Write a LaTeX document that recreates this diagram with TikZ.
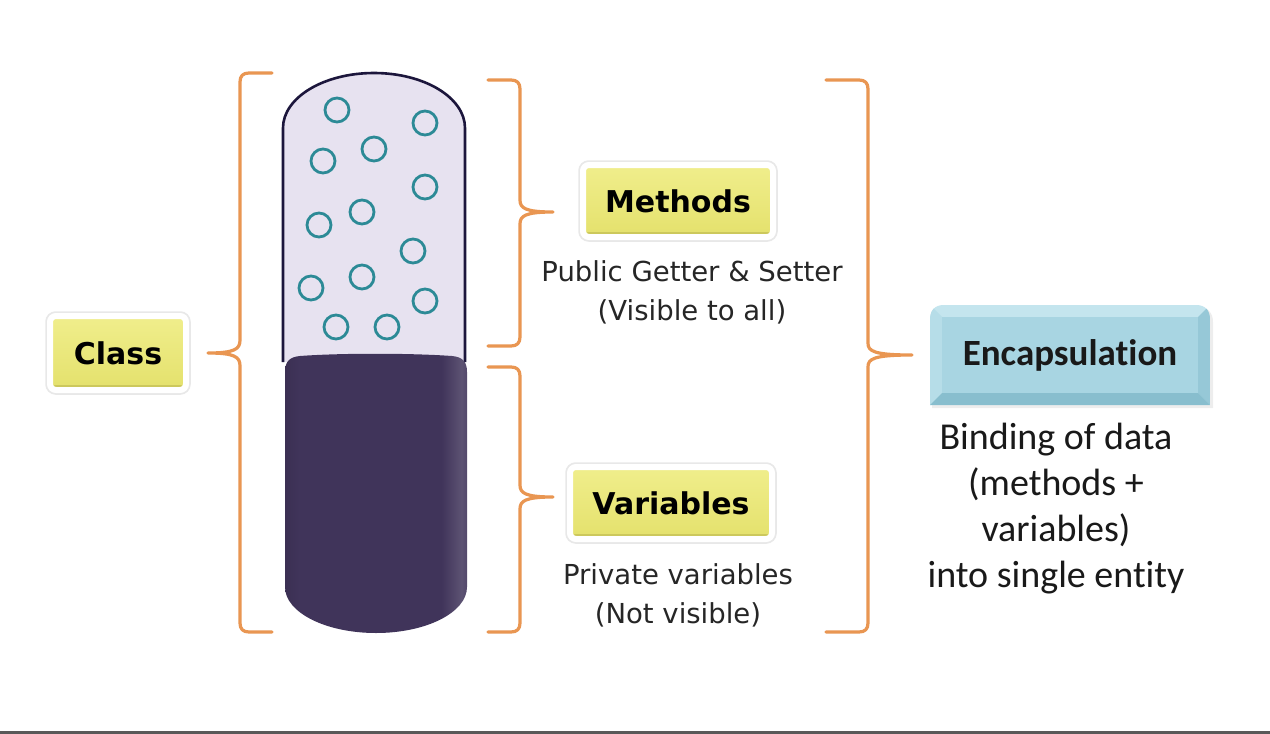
\documentclass[tikz,border=0pt]{standalone}
\usepackage{fontspec}
\setmainfont{DejaVu Sans}
\newfontfamily\calfont[Ligatures=NoCommon]{Carlito}
\usetikzlibrary{shadows}
\definecolor{bracecol}{RGB}{233,150,82}
\definecolor{yellowtop}{RGB}{240,238,140}
\definecolor{yellowbot}{RGB}{228,225,108}
\definecolor{yellowedge}{RGB}{204,200,92}
\definecolor{bluetopbev}{RGB}{196,229,238}
\definecolor{blueface}{RGB}{168,213,226}
\definecolor{blueleft}{RGB}{182,221,232}
\definecolor{blueright}{RGB}{150,200,215}
\definecolor{bluebotbev}{RGB}{136,190,206}
\definecolor{lavender}{RGB}{231,226,240}
\definecolor{navy}{RGB}{28,22,60}
\definecolor{darkpill}{RGB}{64,52,90}
\definecolor{tealring}{RGB}{44,138,150}
\pgfdeclarehorizontalshading{pillshade}{100bp}{
  color(0bp)=(darkpill!92!black); color(25bp)=(darkpill!92!black);
  color(29bp)=(darkpill); color(68bp)=(darkpill);
  color(73.5bp)=(darkpill!85!white); color(75bp)=(darkpill!90!white);
  color(100bp)=(darkpill!90!white)}
\begin{document}
\begin{tikzpicture}[x=1pt,y=-1pt,
  brc/.style={draw=bracecol, line width=3.2, line join=round, line cap=round},
  ybox/.style={rectangle, rounded corners=6, top color=yellowtop, bottom color=yellowbot,
    draw=white, line width=6, inner sep=0pt, text=black,
    font=\bfseries\fontsize{30}{36}\selectfont,
    preaction={draw=black!9, fill=none, line width=9.5, rounded corners=6},
    path picture={\fill[yellowedge] ([yshift=5pt]path picture bounding box.south west)
       rectangle (path picture bounding box.south east);}},
  capt/.style={align=center, inner sep=0pt, text=black!85,
    font=\fontsize{27.5}{39}\selectfont},
  ring/.style={draw=tealring, line width=2.8, fill=none}
]
\useasboundingbox (0,0) rectangle (1270,734);
\fill[white] (0,0) rectangle (1270,734);
\draw[black!65, line width=2.5] (0,732.5) -- (1270,732.5);

% capsule upper part
\path[fill=lavender, draw=navy, line width=2.6]
  (283,362) -- (283,128)
  .. controls (283,97.6) and (323.7,73) .. (374,73)
  .. controls (424.3,73) and (465,97.6) .. (465,128)
  -- (465,362);
% capsule lower part
\path[shading=pillshade] (285,372)
  .. controls (285,361) and (290,357) .. (300,356)
  .. controls (340,353) and (410,353) .. (452,356)
  .. controls (462,357) and (467,361) .. (467,372)
  -- (467,587)
  .. controls (467,612.4) and (426.3,633) .. (376,633)
  .. controls (325.7,633) and (285,612.4) .. (285,587) -- cycle;

% rings
\foreach \cx/\cy in {337/110, 425/123, 374/149, 323/161, 425/187, 362/212,
  319/225, 413/251, 362/277, 311/288, 425/301, 336/327, 387/327}
  \draw[ring] (\cx,\cy) circle[radius=12];

% encapsulation box (bevelled)
\fill[black, opacity=0.07] (932,408) -- (932,322) .. controls (932,313) and (936,307) .. (946,307)
    -- (1198,307) .. controls (1208,307) and (1213,313) .. (1213,322) -- (1213,408) -- cycle;
\begin{scope}
  \clip (930,405) -- (930,320) .. controls (930,311) and (934,305) .. (944,305)
    -- (1196,305) .. controls (1206,305) and (1210,311) .. (1210,320) -- (1210,405) -- cycle;
  \fill[bluetopbev] (930,300) rectangle (1210,405);
  \fill[blueleft] (930,305) -- (942,317) -- (942,393) -- (930,405) -- cycle;
  \fill[blueright] (1210,305) -- (1198,317) -- (1198,393) -- (1210,405) -- cycle;
  \fill[bluebotbev] (930,405) -- (942,393) -- (1198,393) -- (1210,405) -- cycle;
  \fill[blueface] (942,317) rectangle (1198,393);
\end{scope}

% nodes
\node[ybox, minimum width=136, minimum height=74] (class) at (118,353) {Class};
\node[ybox, minimum width=190, minimum height=72] (methods) at (678,201) {Methods};
\node[capt] (methodstxt) at (692,292) {Public Getter \& Setter\\(Visible to all)};
\node[ybox, minimum width=202, minimum height=72] (variables) at (671,503) {Variables};
\node[capt] (variablestxt) at (678,595) {Private variables\\(Not visible)};
\node[minimum width=280, minimum height=100, inner sep=0pt, text=black!90,
  font=\calfont\bfseries\fontsize{37}{42}\selectfont] (encaps) at (1070,355) {Encapsulation};
\node[align=center, inner sep=0pt, text=black!90, font=\calfont\fontsize{38}{46}\selectfont]
  (encapstxt) at (1056,509) {Binding of data\\(methods +\\variables)\\into single entity};

% brace tips
\coordinate (tipL) at (208,353);
\coordinate (tipM) at (553,212);
\coordinate (tipV) at (553,497);
\coordinate (tipE) at (912,355);

% left brace (Class)
\path[brc] (272,73) -- (249,73) .. controls (243,73) and (240,76) .. (240,82)
  -- (240,340) .. controls (240,349) and (235,353) .. (tipL)
  .. controls (235,353) and (240,357) .. (240,366)
  -- (240,623) .. controls (240,629) and (243,632) .. (249,632) -- (272,632);
% methods brace
\path[brc] (488,80) -- (511,80) .. controls (517,80) and (520,83) .. (520,89)
  -- (520,200) .. controls (520,208) and (525,212) .. (tipM)
  .. controls (525,212) and (520,216) .. (520,224)
  -- (520,337) .. controls (520,343) and (517,346) .. (511,346) -- (488,346);
% variables brace
\path[brc] (488,367) -- (511,367) .. controls (517,367) and (520,370) .. (520,376)
  -- (520,485) .. controls (520,493) and (525,497) .. (tipV)
  .. controls (525,497) and (520,501) .. (520,509)
  -- (520,623) .. controls (520,629) and (517,632) .. (511,632) -- (488,632);
% encapsulation brace
\path[brc] (826,80) -- (859,80) .. controls (865,80) and (868,83) .. (868,89)
  -- (868,343) .. controls (868,351) and (873,355) .. (tipE)
  .. controls (873,355) and (868,359) .. (868,367)
  -- (868,623) .. controls (868,629) and (865,632) .. (859,632) -- (826,632);
\end{tikzpicture}
\end{document}
